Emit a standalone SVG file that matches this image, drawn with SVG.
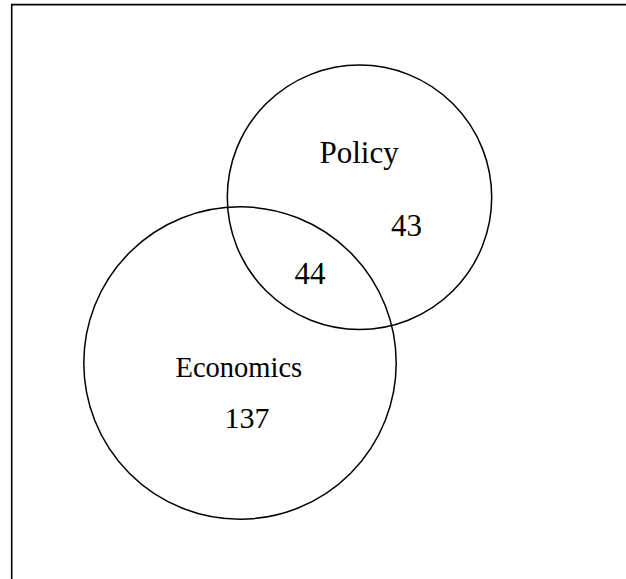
<svg xmlns="http://www.w3.org/2000/svg" width="626" height="579" viewBox="0 0 626 579">
  <style>
    .set { fill: none; stroke: #000; stroke-width: 1.5; }
    .lbl { font-family: "Liberation Serif", "Times New Roman", serif; font-size: 30px; fill: #000; }
    .frame { stroke: #000; stroke-width: 1.6; fill: none; }
  </style>
  <rect width="626" height="579" fill="#fff"/>
  <!-- frame: top and left edges -->
  <g id="frame">
    <path class="frame" d="M11.7 579 V4.6 H626"/>
  </g>
  <g id="policy">
    <circle class="set" cx="359.5" cy="197.3" r="132.2"/>
    <text class="lbl" x="319.5" y="163.3" style="font-size:31px">Policy</text>
    <text class="lbl" x="391" y="235.7" style="font-size:31px">43</text>
  </g>
  <g id="economics">
    <circle class="set" cx="240" cy="363" r="156.2"/>
    <text class="lbl" x="175.5" y="377.3" style="font-size:28.5px">Economics</text>
    <text class="lbl" x="224.5" y="427.5">137</text>
  </g>
  <g id="overlap">
    <text class="lbl" x="294.5" y="283.6" style="font-size:31px">44</text>
  </g>
  <g id="connectors"></g>
</svg>
